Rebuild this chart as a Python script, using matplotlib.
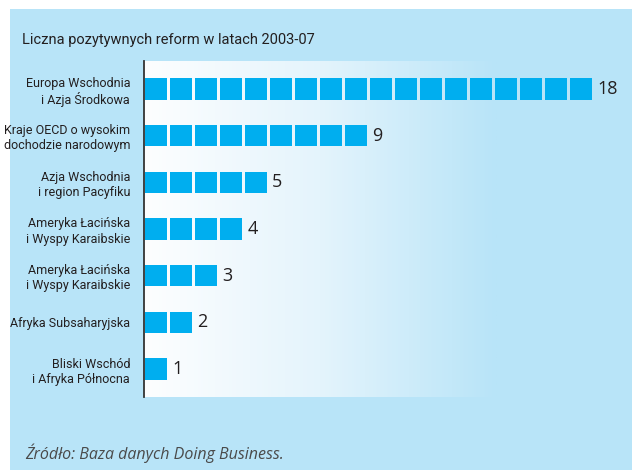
import numpy as np
import matplotlib.pyplot as plt
from matplotlib.patches import Rectangle
from matplotlib.colors import LinearSegmentedColormap

regions = [
    "Europa Wschodnia\ni Azja Środkowa",
    "Kraje OECD o wysokim\ndochodzie narodowym",
    "Azja Wschodnia\ni region Pacyfiku",
    "Ameryka Łacińska\ni Wyspy Karaibskie",
    "Ameryka Łacińska\ni Wyspy Karaibskie",
    "Afryka Subsaharyjska",
    "Bliski Wschód\ni Afryka Północna",
]
reforms = [18, 9, 5, 4, 3, 2, 1]

title = "Liczna pozytywnych reform w latach 2003-07"
source = "Źródło: Baza danych Doing Business."

W, H = 632, 470
panel = "#b8e4f8"
bar_col = "#00aeef"
dark = "#231f20"

fig = plt.figure(figsize=(W / 100, H / 100), dpi=100)
fig.patch.set_facecolor("white")

# light blue panel behind everything
bg = fig.add_axes([10 / W, 0, 1 - 10 / W, (H - 9) / H], zorder=-1)
bg.set_facecolor(panel)
bg.set_xticks([])
bg.set_yticks([])
for s in bg.spines.values():
    s.set_visible(False)

# axes: x from 144px to right edge, y from 61px to 397px
ax = fig.add_axes([144 / W, 1 - 397 / H, (W - 144) / W, (397 - 61) / H])
xmax = (W - 144) / 25
ax.set_facecolor(panel)

# gradient background white -> panel blue
cmap = LinearSegmentedColormap.from_list("g", ["#fdfeff", "#e4f4fc", panel])
grad = np.linspace(0, 1, 256).reshape(1, -1)
ax.imshow(grad, extent=[0, 14.1, 6.6, -0.6], aspect="auto", cmap=cmap, zorder=0)

for row, n in enumerate(reforms):
    for i in range(n):
        ax.add_patch(Rectangle((i + 0.04, row - 0.23), 0.88, 0.46,
                               facecolor=bar_col, edgecolor="none", zorder=2))
    ax.text(n + 0.13, row, str(n), ha="left", va="center", fontsize=13,
            family="Open Sans", color=dark, zorder=3)

ax.set_xlim(0, xmax)
ax.set_ylim(6.6, -0.6)
ax.set_yticks(range(len(regions)))
ax.set_yticklabels(regions, fontsize=9, family="Roboto",
                   color=dark, linespacing=1.2)
ax.tick_params(axis="y", length=0, pad=10)
ax.set_xticks([])
for s in ["top", "right", "bottom"]:
    ax.spines[s].set_visible(False)
ax.spines["left"].set_color("#333333")
ax.spines["left"].set_linewidth(1.3)

fig.text(22 / W, 1 - 40 / H, title, ha="left", va="center", fontsize=10.5,
         family="Roboto", color=dark)
fig.text(25 / W, 1 - 453 / H, source, ha="left", va="center", fontsize=11.5,
         family="Open Sans", style="italic", color="#4a4a4a")

fig.savefig("out.png", dpi=100)
